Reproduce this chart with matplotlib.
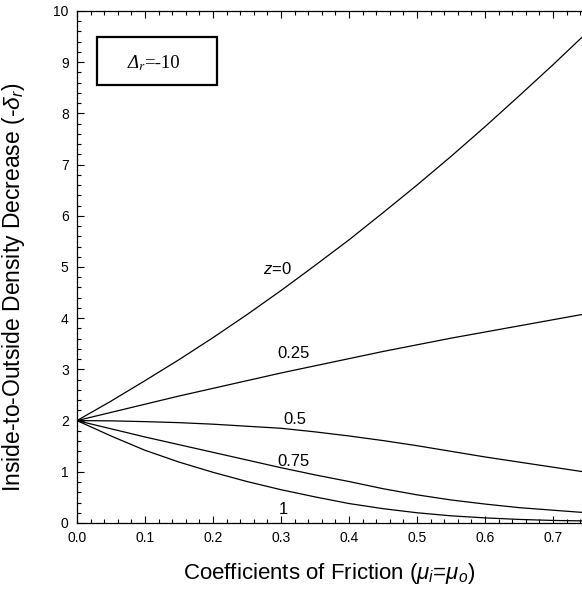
import matplotlib
matplotlib.use("Agg")
import matplotlib.pyplot as plt
from matplotlib.ticker import MultipleLocator
from matplotlib.patches import Rectangle

plt.rcParams['font.family'] = ['Liberation Sans', 'DejaVu Sans']
plt.rcParams['mathtext.fontset'] = 'custom'
plt.rcParams['mathtext.rm'] = 'Liberation Sans'
plt.rcParams['mathtext.it'] = 'Liberation Sans:italic'

mu = [0.0, 0.05, 0.1, 0.15, 0.2, 0.25, 0.3, 0.35, 0.4, 0.45, 0.5, 0.55, 0.6, 0.65, 0.7, 0.75]
z0 = [2.00, 2.38, 2.78, 3.19, 3.62, 4.07, 4.54, 5.03, 5.53, 6.06, 6.60, 7.16, 7.74, 8.34, 8.95, 9.58]
z025 = [2.00, 2.16, 2.32, 2.48, 2.63, 2.78, 2.93, 3.07, 3.21, 3.35, 3.48, 3.61, 3.73, 3.85, 3.97, 4.09]
z05 = [2.00, 1.995, 1.98, 1.96, 1.93, 1.89, 1.85, 1.78, 1.70, 1.61, 1.51, 1.40, 1.29, 1.19, 1.09, 0.99]
z075 = [2.00, 1.84, 1.68, 1.53, 1.38, 1.23, 1.08, 0.94, 0.81, 0.67, 0.55, 0.45, 0.37, 0.30, 0.25, 0.20]
z1 = [2.00, 1.70, 1.42, 1.19, 0.99, 0.81, 0.65, 0.51, 0.38, 0.28, 0.20, 0.14, 0.10, 0.07, 0.05, 0.04]

series = [z0, z025, z05, z075, z1]
labels = [r'$z$=0', '0.25', '0.5', '0.75', '1']
label_pos = [(0.294, 4.97), (0.318, 3.32), (0.32, 2.03), (0.318, 1.21), (0.303, 0.27)]
xtick_vals = [0.0, 0.1, 0.2, 0.3, 0.4, 0.5, 0.6, 0.7]
xtick_labels = ['0.0', '0.1', '0.2', '0.3', '0.4', '0.5', '0.6', '0.7']

fig = plt.figure(figsize=(5.82, 5.93), dpi=100)
ax = fig.add_axes([77/582, 1 - 523/593, 510/582, 512/593])

for ys in series:
    ax.plot(mu, ys, color='black', lw=0.9)

for lab, (x, y) in zip(labels, label_pos):
    ax.text(x, y, lab, fontsize=12, ha='center', va='center')

ax.set_xlim(0, 0.75)
ax.set_ylim(0, 10)
ax.xaxis.set_major_locator(MultipleLocator(0.1))
ax.xaxis.set_minor_locator(MultipleLocator(0.02))
ax.yaxis.set_major_locator(MultipleLocator(1))
ax.yaxis.set_minor_locator(MultipleLocator(0.2))
ax.tick_params(which='both', direction='in', top=True, right=False, labelsize=10, pad=6)
ax.tick_params(which='major', length=5, width=0.8)
ax.tick_params(which='minor', length=3, width=0.8)
ax.set_xticks(xtick_vals)
ax.set_xticklabels(xtick_labels)
for s in ax.spines.values():
    s.set_linewidth(0.9)

xl = ax.set_xlabel(r'Coefficients of Friction ($\mu_i$=$\mu_o$)', fontsize=16)
yl = ax.set_ylabel(r'Inside-to-Outside Density Decrease (-$\delta_r$)', fontsize=16.5)
ax.xaxis.set_label_coords(0.494, -0.098)
ax.yaxis.set_label_coords(-0.125, 0.461)
xl.set_va('center')
yl.set_va('center')

# Box annotation: italic Delta with italic subscript r, then upright "=-10"
t1 = ax.text(0.098, 0.888, r'Δ$_r$', transform=ax.transAxes,
             fontsize=13.5, ha='left', va='baseline', family='Liberation Serif',
             style='italic', math_fontfamily='stix')
fig.canvas.draw()
bb = t1.get_window_extent(renderer=fig.canvas.get_renderer())
x_right = ax.transAxes.inverted().transform((bb.x1 - 2.5, bb.y0))[0]
ax.text(x_right, 0.888, '=-10', transform=ax.transAxes,
        fontsize=13.5, ha='left', va='baseline', family='Liberation Serif')
ax.add_patch(Rectangle((0.039, 0.855), 0.2355, 0.094, transform=ax.transAxes,
                       fill=False, ec='black', lw=1.6))

fig.savefig('out.png', dpi=100)
